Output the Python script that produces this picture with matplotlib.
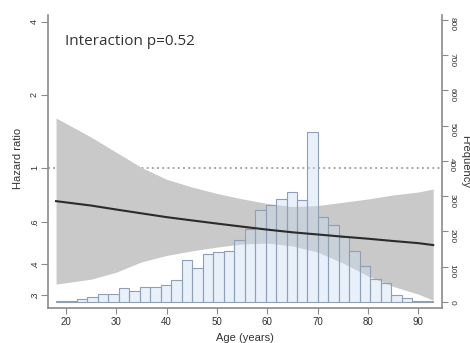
import numpy as np
import matplotlib
matplotlib.use("Agg")
import matplotlib.pyplot as plt

plt.rcParams['font.family'] = ['Liberation Sans', 'DejaVu Sans']

# hazard ratio curve with 95% CI
age_grid = [18, 25, 30, 35, 40, 45, 50, 55, 60, 65, 70, 75, 80, 85, 90, 93]
hr = [0.730, 0.700, 0.674, 0.650, 0.627, 0.608, 0.590, 0.573,
      0.557, 0.543, 0.532, 0.521, 0.511, 0.500, 0.490, 0.481]
ci_upper = [1.608, 1.340, 1.160, 1.005, 0.898, 0.835, 0.785, 0.746,
            0.714, 0.693, 0.700, 0.722, 0.745, 0.774, 0.796, 0.819]
ci_lower = [0.332, 0.348, 0.372, 0.410, 0.436, 0.455, 0.472, 0.486,
            0.490, 0.477, 0.450, 0.406, 0.359, 0.325, 0.302, 0.285]

# age histogram (36 bins between min and max age)
age_min, age_max = 18, 93
freq = [3, 3, 8, 15, 22, 22, 40, 32, 42, 42, 48, 62, 120, 97, 136, 142, 144, 176,
        206, 262, 274, 292, 311, 289, 483, 242, 219, 185, 146, 103, 66, 55, 21, 10, 3, 2]

x_ticks = [20, 30, 40, 50, 60, 70, 80, 90]
hr_ticks = [0.3, 0.4, 0.6, 1, 2, 4]
hr_tick_labels = [".3", ".4", ".6", "1", "2", "4"]
freq_ticks = [0, 100, 200, 300, 400, 500, 600, 700, 800]

axis_grey = '#8a8a8a'
text_col = '#333333'

fig = plt.figure(figsize=(4.7, 3.43), dpi=100)
ax = fig.add_axes([48 / 470, 35 / 343, 394 / 470, 293 / 343])

ax.set_yscale('log')
ax.set_xlim(16.4, 94.75)
ax.set_ylim(0.2646, 4.276)

ax.axhline(1, color=axis_grey, ls=(0, (1.2, 2.2)), lw=1.1, zorder=1)
ax.fill_between(age_grid, ci_lower, ci_upper, color='#c9c9c9', lw=0, zorder=2)

ax2 = ax.twinx()
edges = np.linspace(age_min, age_max, len(freq) + 1)
ax2.bar(edges[:-1], freq, width=np.diff(edges), align='edge',
        facecolor=(0.78, 0.86, 0.94, 0.4), edgecolor='#8fa0b6', lw=0.8)
# fitted line goes on top of the bars
ax2.plot(age_grid, hr, color='#2b2b2b', lw=1.5, transform=ax.transData)
ax2.set_ylim(-17, 814)
ax.set_xlim(16.4, 94.75)

ax.set_xticks(x_ticks)
ax.set_yticks(hr_ticks, labels=hr_tick_labels)
ax.set_yticks([], minor=True)
ax2.set_yticks(freq_ticks)

for s in ['top', 'right']:
    ax.spines[s].set_visible(False)
for s in ['top', 'left', 'bottom']:
    ax2.spines[s].set_visible(False)
for s in ['left', 'bottom']:
    ax.spines[s].set_color(axis_grey)
    ax.spines[s].set_linewidth(1.2)
ax2.spines['right'].set_color(axis_grey)
ax2.spines['right'].set_linewidth(1.2)

ax.tick_params(axis='x', length=4, width=0.8, pad=2.5, labelsize=7,
               color=axis_grey, labelcolor=text_col)
ax.tick_params(axis='y', length=5, width=0.8, pad=1.5, labelsize=6.5,
               labelrotation=90, color=axis_grey, labelcolor=text_col)
ax2.tick_params(axis='y', length=4, width=0.8, pad=0.5, labelsize=6,
                labelrotation=270, color=axis_grey, labelcolor=text_col)

ax.set_xlabel('Age (years)', fontsize=8, color=text_col)
ax.xaxis.set_label_coords(0.5, -25 / 293)
fig.text(18 / 470, 1 - 158 / 343, 'Hazard ratio', rotation=90, fontsize=8,
         color=text_col, ha='center', va='center')
fig.text(465 / 470, 1 - 161 / 343, 'Frequency', rotation=270, fontsize=8,
         color=text_col, ha='center', va='center')

ax.text(0.043, 0.911, 'Interaction p=0.52', transform=ax.transAxes,
        fontsize=11, family='Open Sans', va='center', color=text_col)

fig.savefig('out.png', dpi=100)
